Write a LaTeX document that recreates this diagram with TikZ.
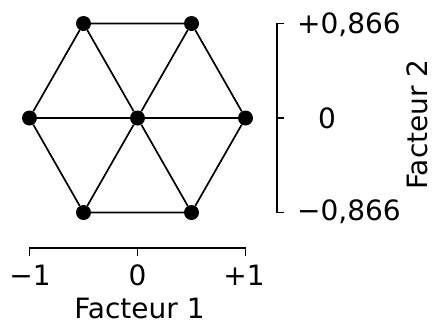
\documentclass[tikz,border=0pt]{standalone}
\usepackage{fontspec}
\setmainfont{DejaVu Sans}
\begin{document}
\begin{tikzpicture}[x=1pt,y=-1pt,
  dot/.style={circle,fill=black,inner sep=0pt,minimum size=15pt},
  edge/.style={line width=1.7pt},
  axis/.style={line width=1.6pt},
  lbl/.style={font=\fontsize{28}{32}\selectfont,inner sep=0pt,anchor=base}]
\useasboundingbox (0,0) rectangle (433,325);
% hexagon nodes
\node[dot] (c) at (137.5,118) {};
\node[dot] (l) at (29.5,118) {};
\node[dot] (r) at (245.5,118) {};
\node[dot] (tl) at (83.5,23.5) {};
\node[dot] (tr) at (191.5,23.5) {};
\node[dot] (bl) at (83.5,212.5) {};
\node[dot] (br) at (191.5,212.5) {};
\draw[edge] (l) -- (tl) -- (tr) -- (r) -- (br) -- (bl) -- (l);
\draw[edge] (l) -- (c) -- (r);
\draw[edge] (tl) -- (c) -- (br);
\draw[edge] (tr) -- (c) -- (bl);
% bottom axis
\coordinate (a1) at (29.5,256);
\coordinate (a1t) at (29.5,248);
\coordinate (a2) at (137.5,256);
\coordinate (a2t) at (137.5,248);
\coordinate (a3) at (245.5,256);
\coordinate (a3t) at (245.5,248);
\draw[axis] (a1) -- (a1t) -- (a3t) -- (a3);
\draw[axis] (a2t) -- (a2);
\node[lbl] (xm) at (30,285) {−1};
\node[lbl] (x0) at (137.5,285) {0};
\node[lbl] (xp) at (244,285) {+1};
\node[lbl] (xf) at (139.5,318.5) {Facteur 1};
% right axis
\coordinate (b1) at (284,23.5);
\coordinate (b1t) at (277,23.5);
\coordinate (b2) at (284,118);
\coordinate (b2t) at (277,118);
\coordinate (b3) at (284,212.5);
\coordinate (b3t) at (277,212.5);
\draw[axis] (b1) -- (b1t) -- (b3t) -- (b3);
\draw[axis] (b2t) -- (b2);
\node[lbl,anchor=base west] (yp) at (297,33) {+0,866};
\node[lbl] (y0) at (327,128) {0};
\node[lbl,anchor=base west] (ym) at (297,220) {−0,866};
\node[lbl,rotate=90] (yf) at (427,124.5) {Facteur 2};
\end{tikzpicture}
\end{document}
